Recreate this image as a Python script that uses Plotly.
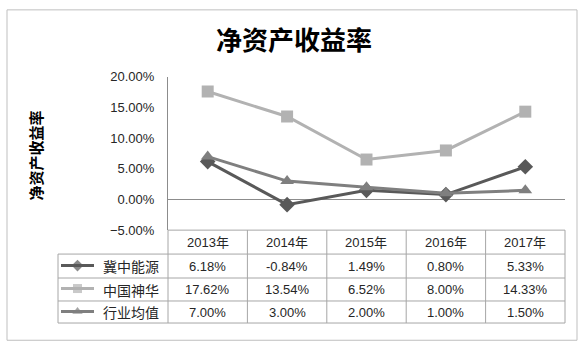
import plotly.graph_objects as go

categories = ["2013年", "2014年", "2015年", "2016年", "2017年"]
series_names = ["冀中能源", "中国神华", "行业均值"]
jizhong = [6.18, -0.84, 1.49, 0.80, 5.33]
shenhua = [17.62, 13.54, 6.52, 8.00, 14.33]
industry = [7.00, 3.00, 2.00, 1.00, 1.50]
y_ticks = [-5, 0, 5, 10, 15, 20]
title_text = "净资产收益率"
y_title = "净资产收益率"

series_values = [jizhong, shenhua, industry]
colors = ["#595959", "#b2b2b2", "#7f7f7f"]
symbols = ["diamond", "square", "triangle-up"]

W, H = 588, 354


def px(x):
    return x / W


def py(y):
    return 1 - y / H


plot_left, plot_right, plot_top, plot_bottom = 168, 565, 73, 233
xdom = [px(plot_left), px(plot_right)]
ydom = [py(plot_bottom), py(plot_top)]
row_bounds = [233, 258, 283, 307, 330]
legend_left = 58

num_font = "Liberation Sans"
cjk_font = "Noto Sans CJK SC"
mix_font = "Liberation Sans, Noto Sans CJK SC"
grid_col = "#a6a6a6"

fig = go.Figure()

for name, vals, c, s in zip(series_names, series_values, colors, symbols):
    fig.add_trace(go.Scatter(
        x=categories, y=[v / 100 for v in vals], mode="lines+markers",
        name=name, line=dict(color=c, width=3),
        marker=dict(symbol=s, size=12, color=c), showlegend=False,
        cliponaxis=False))

# legend samples inside the table (own small axes)
for i, (name, c, s) in enumerate(zip(series_names, colors, symbols)):
    yy = 2.5 - i
    fig.add_trace(go.Scatter(
        x=[3, 19.5, 36], y=[yy, yy, yy], mode="lines+markers",
        line=dict(color=c, width=3),
        marker=dict(symbol=s, size=[0, 9, 0], color=c, line=dict(width=0)),
        xaxis="x2", yaxis="y2", showlegend=False, hoverinfo="skip"))

ncat = len(categories)


def col_x(i):
    return xdom[0] + (xdom[1] - xdom[0]) * i / ncat


shapes = []
# outer border
shapes.append(dict(type="rect", xref="paper", yref="paper",
                   x0=px(7), x1=px(577), y0=py(348), y1=py(3),
                   line=dict(color="#bfbfbf", width=1)))
# table horizontal lines
shapes.append(dict(type="line", xref="paper", yref="paper",
                   x0=xdom[0], x1=xdom[1], y0=py(row_bounds[0]), y1=py(row_bounds[0]),
                   line=dict(color=grid_col, width=1)))
for rb in row_bounds[1:]:
    shapes.append(dict(type="line", xref="paper", yref="paper",
                       x0=px(legend_left), x1=xdom[1], y0=py(rb), y1=py(rb),
                       line=dict(color=grid_col, width=1)))
# vertical lines
shapes.append(dict(type="line", xref="paper", yref="paper",
                   x0=px(legend_left), x1=px(legend_left),
                   y0=py(row_bounds[-1]), y1=py(row_bounds[1]),
                   line=dict(color=grid_col, width=1)))
for i in range(ncat + 1):
    shapes.append(dict(type="line", xref="paper", yref="paper",
                       x0=col_x(i), x1=col_x(i),
                       y0=py(row_bounds[-1]), y1=py(row_bounds[0]),
                       line=dict(color=grid_col, width=1)))

annotations = []
annotations.append(dict(text="<b>" + title_text + "</b>", xref="paper", yref="paper",
                        x=px(294), y=py(33), showarrow=False,
                        font=dict(family=cjk_font, size=26, color="#000000"),
                        xanchor="center", yanchor="middle"))
annotations.append(dict(text="<b>" + y_title + "</b>", xref="paper", yref="paper",
                        x=px(35), y=py(155), showarrow=False, textangle=-90,
                        font=dict(family=cjk_font, size=15, color="#000000"),
                        xanchor="center", yanchor="middle"))

# header
for i, cat in enumerate(categories):
    cx = (col_x(i) + col_x(i + 1)) / 2
    annotations.append(dict(text=cat, xref="paper", yref="paper",
                            x=cx, y=py((row_bounds[0] + row_bounds[1]) / 2),
                            showarrow=False,
                            font=dict(family=mix_font, size=13, color="#262626"),
                            xanchor="center", yanchor="middle"))
# rows
for r, (name, vals) in enumerate(zip(series_names, series_values)):
    ymid = py((row_bounds[r + 1] + row_bounds[r + 2]) / 2)
    annotations.append(dict(text=name, xref="paper", yref="paper",
                            x=px(131), y=ymid, showarrow=False,
                            font=dict(family=cjk_font, size=14, color="#262626"),
                            xanchor="center", yanchor="middle"))
    for i, v in enumerate(vals):
        cx = (col_x(i) + col_x(i + 1)) / 2
        annotations.append(dict(text=f"{v:.2f}%", xref="paper", yref="paper",
                                x=cx, y=ymid, showarrow=False,
                                font=dict(family=num_font, size=13, color="#262626"),
                                xanchor="center", yanchor="middle"))

fig.update_layout(
    width=W, height=H, margin=dict(l=0, r=0, t=0, b=0),
    paper_bgcolor="white", plot_bgcolor="white",
    xaxis=dict(domain=xdom, type="category", range=[-0.5, 4.5],
               showticklabels=False, showgrid=False, zeroline=False,
               showline=False, ticks=""),
    yaxis=dict(domain=ydom, range=[-0.05, 0.20],
               tickvals=[t / 100 for t in y_ticks], tickformat=".2%",
               showgrid=False, zeroline=True, zerolinecolor="#8c8c8c",
               zerolinewidth=1, showline=True, linecolor="#8c8c8c", linewidth=1,
               ticks="", ticklabelstandoff=10,
               tickfont=dict(family=num_font, size=13, color="#262626")),
    xaxis2=dict(domain=[px(legend_left), px(plot_left)], range=[0, 110],
                visible=False, fixedrange=True),
    yaxis2=dict(domain=[py(row_bounds[-1]), py(row_bounds[1])], range=[0, 3],
                visible=False, fixedrange=True, anchor="x2"),
    shapes=shapes, annotations=annotations,
)

fig.write_html("out.html")
